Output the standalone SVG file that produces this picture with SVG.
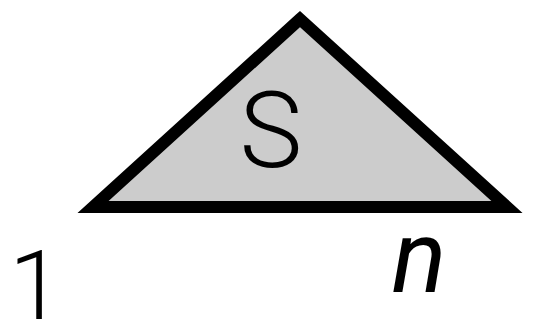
<svg xmlns="http://www.w3.org/2000/svg" width="533" height="322" viewBox="0 0 533 322">
<style>
.lbl{font-family:Roboto,"Liberation Sans",sans-serif;fill:#000}
</style>
<rect width="533" height="322" fill="#fff"/>
<g id="triangle">
<polygon points="300,19 93,207 507,207" fill="#cccccc" stroke="#000" stroke-width="12" stroke-linejoin="miter" stroke-miterlimit="10"/>
<text class="lbl" x="271" y="167" font-size="106" font-weight="300" text-anchor="middle">S</text>
</g>
<g id="label-1">
<text class="lbl" x="36" y="319" font-size="97" font-weight="300" text-anchor="middle">1</text>
</g>
<g id="label-n">
<text class="lbl" x="419" y="292" font-size="102" font-style="italic" text-anchor="middle">n</text>
</g>
</svg>
